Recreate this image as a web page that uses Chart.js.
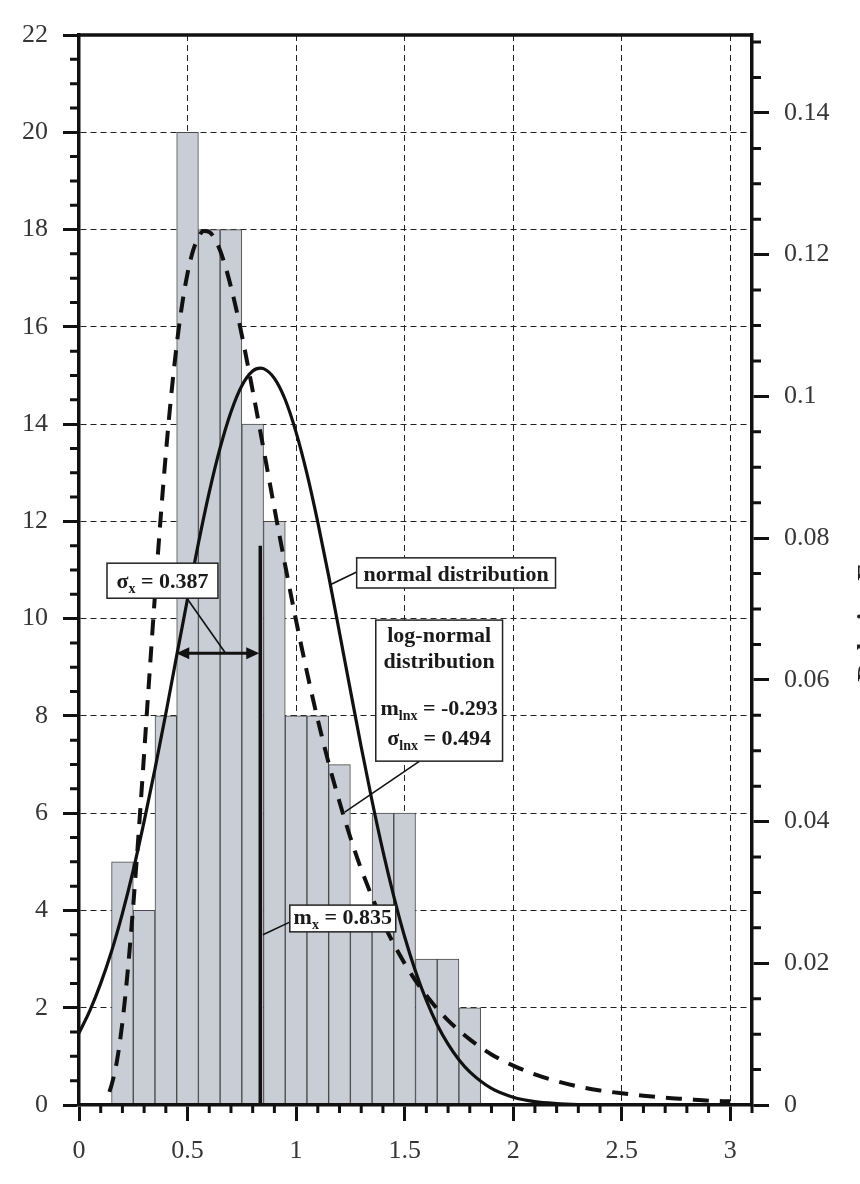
<!DOCTYPE html>
<html><head><meta charset="utf-8">
<script src="https://cdn.jsdelivr.net/npm/chart.js@4.4.1/dist/chart.umd.min.js"></script>
<style>html,body{margin:0;padding:0;background:#fff;} #wrap{width:860px;height:1184px;}</style>
</head><body><div id="wrap"><canvas id="c" width="860" height="1184"></canvas></div>
<script>
// ---------- data ----------
const binCenters = [0.2,0.3,0.4,0.5,0.6,0.7,0.8,0.9,1.0,1.1,1.2,1.3,1.4,1.5,1.6,1.7,1.8];
const binCounts  = [5,4,8,20,18,18,14,12,8,8,7,4,6,6,3,3,2];

const normalX = [0,0.05,0.1,0.15,0.2,0.25,0.3,0.35,0.4,0.45,0.5,0.55,0.6,0.65,0.7,0.75,0.8,0.835,0.85,0.9,0.95,1.0,1.05,1.1,1.15,1.2,1.25,1.3,1.35,1.4,1.45,1.5,1.55,1.6,1.65,1.7,1.75,1.8,1.9,2.0,2.1,2.2,2.3,2.4,2.6,2.8,3.0];
const normalY = [1.48,1.94,2.50,3.16,3.94,4.83,5.83,6.91,8.05,9.24,10.41,11.55,12.60,13.51,14.25,14.79,15.09,15.15,15.14,14.94,14.50,13.83,12.98,11.98,10.88,9.71,8.53,7.36,6.25,5.22,4.29,3.46,2.75,2.15,1.65,1.25,0.93,0.68,0.34,0.16,0.07,0.03,0.01,0,0,0,0];

const lognormX = [0.14,0.15,0.175,0.2,0.225,0.25,0.275,0.3,0.325,0.35,0.375,0.4,0.425,0.45,0.475,0.5,0.525,0.55,0.575,0.6,0.625,0.65,0.675,0.7,0.725,0.75,0.8,0.85,0.9,0.95,1.0,1.05,1.1,1.15,1.2,1.25,1.3,1.4,1.5,1.6,1.7,1.8,1.9,2.0,2.1,2.2,2.3,2.4,2.5,2.6,2.7,2.8,2.9,3.0];
const lognormY = [0.27,0.41,0.91,1.70,2.78,4.11,5.61,7.23,8.88,10.49,12.01,13.39,14.60,15.63,16.46,17.10,17.56,17.84,17.97,17.95,17.81,17.57,17.23,16.82,16.35,15.83,14.69,13.49,12.27,11.09,9.96,8.90,7.92,7.03,6.23,5.50,4.85,3.76,2.91,2.25,1.74,1.35,1.04,0.81,0.63,0.49,0.38,0.30,0.24,0.19,0.15,0.12,0.09,0.075];

const meanX = 0.835;
const meanLineTop = 11.5;
const sigmaX = 0.387;
const sigmaArrowY = 9.29;

const xTicks = [0,0.5,1,1.5,2,2.5,3];
const xTickLabels = ['0','0.5','1','1.5','2','2.5','3'];
const yTicks = [0,2,4,6,8,10,12,14,16,18,20,22];
const yTickLabels = ['0','2','4','6','8','10','12','14','16','18','20','22'];
const y2Ticks = [0,0.02,0.04,0.06,0.08,0.1,0.12,0.14];
const y2TickLabels = ['0','0.02','0.04','0.06','0.08','0.1','0.12','0.14'];
const rightTitle = 'Relative Frequency';

// annotation boxes (data coordinates), baselines in px from box top
const notes = [
  {x1:0.129, x2:0.640, yTop:11.14, yBot:10.42,
   lines:[[25, [['σ',0],['x',1],[' = 0.387',0]]]],
   leader:[[0.497,10.42],[0.672,9.31]]},
  {x1:1.279, x2:2.195, yTop:11.25, yBot:10.63,
   lines:[[23, [['normal distribution',0]]]],
   leader:[[1.279,10.96],[1.155,10.69]]},
  {x1:1.367, x2:1.951, yTop:9.97, yBot:7.07,
   lines:[[22,[['log-normal',0]]],[48,[['distribution',0]]],[95,[['m',0],['lnx',1],[' = -0.293',0]]],[125,[['σ',0],['lnx',1],[' = 0.494',0]]]],
   leader:[[1.569,7.07],[1.224,6.02]]},
  {x1:0.971, x2:1.459, yTop:4.11, yBot:3.56,
   lines:[[19,[['m',0],['x',1],[' = 0.835',0]]]],
   leader:[[0.971,3.76],[0.847,3.50]]}
];

// ---------- chart ----------
const SERIF = '"Liberation Serif", "DejaVu Serif", serif';
Chart.defaults.font.family = SERIF;
const INK = '#111';
const tickFont = {family: SERIF, size: 26};
const labelColor = '#363636';

const deco = {
  id: 'deco',
  afterDatasetsDraw(chart) {
    const {ctx} = chart;
    const xs = chart.scales.x, ys = chart.scales.y;
    const py = ys.getPixelForValue(sigmaArrowY);
    const xl = xs.getPixelForValue(meanX - sigmaX), xr = xs.getPixelForValue(meanX);
    ctx.save();
    ctx.fillStyle = INK;
    ctx.beginPath(); ctx.moveTo(xl, py); ctx.lineTo(xl + 13, py - 6); ctx.lineTo(xl + 13, py + 6); ctx.closePath(); ctx.fill();
    ctx.beginPath(); ctx.moveTo(xr - 1, py); ctx.lineTo(xr - 14, py - 6); ctx.lineTo(xr - 14, py + 6); ctx.closePath(); ctx.fill();
    for (const n of notes) {
      ctx.strokeStyle = INK; ctx.lineWidth = 1.6; ctx.setLineDash([]);
      ctx.beginPath();
      ctx.moveTo(xs.getPixelForValue(n.leader[0][0]), ys.getPixelForValue(n.leader[0][1]));
      ctx.lineTo(xs.getPixelForValue(n.leader[1][0]), ys.getPixelForValue(n.leader[1][1]));
      ctx.stroke();
      const bx1 = xs.getPixelForValue(n.x1), bx2 = xs.getPixelForValue(n.x2);
      const by1 = ys.getPixelForValue(n.yTop), by2 = ys.getPixelForValue(n.yBot);
      ctx.fillStyle = '#fff';
      ctx.fillRect(bx1, by1, bx2 - bx1, by2 - by1);
      ctx.lineWidth = 1.5; ctx.strokeStyle = '#222';
      ctx.strokeRect(bx1, by1, bx2 - bx1, by2 - by1);
      ctx.fillStyle = '#1a1a1a';
      ctx.textBaseline = 'alphabetic'; ctx.textAlign = 'left';
      for (const [base, runs] of n.lines) {
        let w = 0;
        for (const [t, sub] of runs) { ctx.font = sub ? 'bold 14px ' + SERIF : 'bold 22px ' + SERIF; w += ctx.measureText(t).width; }
        let x = (bx1 + bx2) / 2 - w / 2;
        for (const [t, sub] of runs) {
          ctx.font = sub ? 'bold 14px ' + SERIF : 'bold 22px ' + SERIF;
          ctx.fillText(t, x, by1 + base + (sub ? 5 : 0));
          x += ctx.measureText(t).width;
        }
      }
    }
    ctx.restore();
  },
  afterDraw(chart) {
    const {ctx, chartArea: a} = chart;
    const xs = chart.scales.x, ys = chart.scales.y, y2 = chart.scales.y2;
    ctx.save();
    ctx.strokeStyle = INK; ctx.setLineDash([]);
    ctx.lineWidth = 3.5;
    ctx.beginPath(); ctx.moveTo(a.left - 1, a.top); ctx.lineTo(a.right + 1, a.top); ctx.stroke();
    ctx.lineWidth = 3;
    ctx.beginPath();
    for (let i = 0; i <= 44; i++) { if (i % 4 === 0) continue; const p = ys.getPixelForValue(i * 0.5); ctx.moveTo(a.left - 9, p); ctx.lineTo(a.left, p); }
    for (let i = 0; i <= 30; i++) { if (i % 4 === 0) continue; const p = y2.getPixelForValue(i * 0.005); ctx.moveTo(a.right, p); ctx.lineTo(a.right + 9, p); }
    for (let i = 0; i <= 31; i++) { if (i % 5 === 0) continue; const p = xs.getPixelForValue(i * 0.1); ctx.moveTo(p, a.bottom); ctx.lineTo(p, a.bottom + 8); }
    ctx.stroke();
    // right axis title (mostly cut off by the page edge)
    ctx.translate(876, (a.top + a.bottom) / 2);
    ctx.rotate(-Math.PI / 2);
    ctx.font = 'bold 27px ' + SERIF;
    ctx.fillStyle = '#222'; ctx.textAlign = 'center'; ctx.textBaseline = 'alphabetic';
    ctx.fillText(rightTitle, 0, 0);
    ctx.restore();
  }
};

const hideAt = (vals) => (c) => (c.tick && vals.includes(c.tick.value)) ? 'rgba(0,0,0,0)' : '#222';

new Chart(document.getElementById('c').getContext('2d'), {
  type: 'bar',
  data: {
    datasets: [
      {type: 'line', label: 'log-normal', data: lognormX.map((x, i) => ({x, y: lognormY[i]})),
       borderColor: INK, borderWidth: 4, borderDash: [16, 11], pointRadius: 0, cubicInterpolationMode: 'monotone', order: 1, yAxisID: 'y'},
      {type: 'line', label: 'normal', data: normalX.map((x, i) => ({x, y: normalY[i]})),
       borderColor: INK, borderWidth: 3.2, pointRadius: 0, cubicInterpolationMode: 'monotone', order: 1, yAxisID: 'y'},
      {type: 'line', label: 'mean', data: [{x: meanX, y: 0}, {x: meanX, y: meanLineTop}],
       borderColor: INK, borderWidth: 3.5, pointRadius: 0, order: 0, yAxisID: 'y'},
      {type: 'line', label: 'sigma', data: [{x: meanX - sigmaX + 0.03, y: sigmaArrowY}, {x: meanX - 0.03, y: sigmaArrowY}],
       borderColor: INK, borderWidth: 3, pointRadius: 0, order: 0, yAxisID: 'y'},
      {type: 'bar', label: 'count', data: binCenters.map((x, i) => ({x, y: binCounts[i]})),
       backgroundColor: '#c9cdd5', borderColor: '#4a4a4a', borderWidth: 1, barPercentage: 1, categoryPercentage: 1, order: 5, yAxisID: 'y'}
    ]
  },
  options: {
    responsive: false, animation: false, devicePixelRatio: 1,
    layout: {padding: {top: 35, left: 0, right: 0, bottom: 0}},
    plugins: {legend: {display: false}, tooltip: {enabled: false}},
    scales: {
      x: {
        type: 'linear', position: 'bottom', min: 0, max: 3.1, offset: false,
        afterBuildTicks: s => { s.ticks = xTicks.map(v => ({value: v})); },
        afterFit: s => { s.height = 79; },
        ticks: {callback: v => xTickLabels[xTicks.indexOf(v)] ?? '', font: tickFont, color: labelColor, padding: 15, maxRotation: 0, autoSkip: false},
        grid: {offset: false, color: hideAt([0]), lineWidth: 1, tickLength: 16, tickWidth: 3, tickColor: INK, tickBorderDash: []},
        border: {display: true, color: INK, width: 3.5, dash: [6, 4], z: 1}
      },
      y: {
        position: 'left', min: 0, max: 22,
        afterBuildTicks: s => { s.ticks = yTicks.map(v => ({value: v})); },
        afterFit: s => { s.width = 79; },
        ticks: {callback: v => yTickLabels[yTicks.indexOf(v)] ?? '', font: tickFont, color: labelColor, padding: 15, autoSkip: false},
        grid: {color: hideAt([0, 22]), lineWidth: 1, tickLength: 16, tickWidth: 3, tickColor: INK, tickBorderDash: []},
        border: {display: true, color: INK, width: 3.5, dash: [6, 4], z: 1}
      },
      y2: {
        position: 'right', min: 0, max: 0.151,
        afterBuildTicks: s => { s.ticks = y2Ticks.map(v => ({value: v})); },
        afterFit: s => { s.width = 108; },
        ticks: {callback: v => y2TickLabels[y2Ticks.indexOf(v)] ?? '', font: tickFont, color: labelColor, padding: 15, autoSkip: false},
        grid: {drawOnChartArea: false, tickLength: 17, tickWidth: 3, tickColor: INK, tickBorderDash: []},
        border: {display: true, color: INK, width: 3.5, z: 1}
      }
    }
  },
  plugins: [deco]
});
</script>
</body></html>
